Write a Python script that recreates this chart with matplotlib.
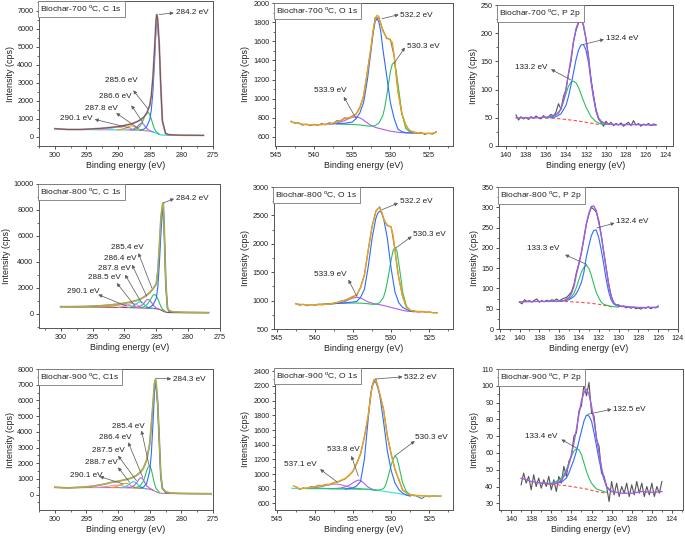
import matplotlib
matplotlib.use("Agg")
import matplotlib.pyplot as plt
from matplotlib.ticker import MultipleLocator, AutoMinorLocator

plt.rcParams['font.family'] = ['Liberation Sans', 'DejaVu Sans']
plt.rcParams['mathtext.fontset'] = 'custom'
plt.rcParams['mathtext.rm'] = 'Liberation Sans'

# ---------------- C 1s, 700 C ----------------
c700_x = [300, 298, 296, 294, 292, 291, 290, 289, 288, 287.5, 287, 286.5, 286, 285.5, 285, 284.75,
          284.5, 284.25, 284, 283.9, 283.75, 283.5, 283.25, 283, 282.5, 282, 281, 280, 278, 276.5]
c700_env = [460, 420, 420, 450, 500, 540, 580, 640, 720, 780, 850, 950, 1080, 1300, 1750, 2300,
            3300, 4800, 6500, 6800, 6600, 5200, 2800, 900, 200, 130, 110, 100, 95, 90]
c700_bg = [450, 415, 410, 405, 400, 398, 395, 390, 385, 380, 375, 370, 360, 345, 320, 300,
           280, 250, 210, 195, 175, 140, 120, 110, 100, 95, 90, 90, 88, 85]
c700_p1_x = [286.5, 286, 285.5, 285, 284.75, 284.5, 284.25, 284, 283.9, 283.75, 283.5, 283.25, 283, 282.5, 282, 281]
c700_p1_y = [375, 420, 560, 950, 1500, 2500, 4100, 6000, 6350, 6200, 5000, 2700, 880, 190, 120, 100]
c700_p2_x = [287.5, 287, 286.5, 286, 285.75, 285.5, 285.25, 285, 284.75, 284.5, 284.25, 284, 283.5]
c700_p2_y = [390, 450, 620, 950, 1180, 1330, 1380, 1250, 1000, 700, 450, 300, 160]
c700_p3_x = [288, 287.5, 287, 286.75, 286.5, 286.25, 286, 285.75, 285.5, 285, 284.5]
c700_p3_y = [400, 450, 560, 660, 740, 770, 720, 600, 480, 350, 280]
c700_p4_x = [290, 289.5, 289, 288.5, 288, 287.75, 287.5, 287, 286.5, 286, 285.5]
c700_p4_y = [400, 420, 470, 560, 620, 620, 580, 470, 400, 365, 345]
c700_p5_x = [293, 292, 291, 290.5, 290, 289.5, 289, 288, 287]
c700_p5_y = [405, 430, 490, 530, 545, 520, 470, 400, 375]
c700_labels = ["284.2 eV", "285.6 eV", "286.6 eV", "287.8 eV", "290.1 eV"]

# ---------------- C 1s, 800 C ----------------
c800_x = [300, 298, 296, 294, 292, 291, 290, 289, 288, 287.5, 287, 286.5, 286, 285.5, 285, 284.75,
          284.5, 284.25, 284, 283.9, 283.75, 283.5, 283.25, 283, 282.5, 282, 281, 280, 278, 276.8]
c800_env = [560, 560, 580, 620, 700, 760, 830, 920, 1050, 1150, 1280, 1450, 1650, 1950, 2300, 3300,
            5300, 7500, 8450, 8550, 6500, 2300, 500, 250, 170, 150, 130, 120, 110, 100]
c800_bg = [560, 550, 540, 530, 515, 505, 495, 485, 475, 470, 460, 450, 440, 425, 400, 380,
           350, 300, 240, 215, 180, 140, 120, 110, 105, 100, 100, 100, 100, 100]
c800_p1_x = [286.5, 286, 285.5, 285, 284.75, 284.5, 284.25, 284, 283.9, 283.75, 283.5, 283.25, 283, 282.5]
c800_p1_y = [460, 520, 700, 1200, 2100, 4000, 6400, 8000, 8300, 6300, 2200, 450, 200, 110]
c800_p2_x = [287.5, 287, 286.5, 286, 285.75, 285.5, 285.25, 285, 284.75, 284.5, 284.25, 284, 283.5]
c800_p2_y = [480, 540, 700, 1000, 1250, 1450, 1500, 1400, 1150, 850, 550, 350, 160]
c800_p3_x = [288.5, 288, 287.5, 287, 286.75, 286.5, 286.25, 286, 285.75, 285.5, 285, 284.5]
c800_p3_y = [490, 520, 600, 780, 950, 1080, 1120, 1050, 880, 680, 450, 360]
c800_p4_x = [289.5, 289, 288.5, 288, 287.75, 287.5, 287.25, 287, 286.5, 286, 285.5]
c800_p4_y = [500, 540, 650, 820, 920, 950, 900, 780, 560, 470, 430]
c800_p5_x = [291, 290.5, 290, 289.5, 289, 288.75, 288.5, 288.25, 288, 287.5, 287, 286.5]
c800_p5_y = [510, 540, 600, 700, 790, 810, 800, 760, 680, 540, 480, 455]
c800_p6_x = [294, 293, 292, 291, 290.5, 290, 289.5, 289, 288, 287]
c800_p6_y = [540, 560, 610, 680, 710, 720, 690, 620, 510, 465]
c800_labels = ["284.2 eV", "285.4 eV", "286.4 eV", "287.8 eV", "288.5 eV", "290.1 eV"]

# ---------------- C 1s, 900 C ----------------
c900_x = [300, 298, 296, 294, 292, 291, 290, 289, 288, 287.5, 287, 286.5, 286, 285.5, 285, 284.75,
          284.5, 284.25, 284.1, 284, 283.75, 283.5, 283.25, 283, 282.5, 282, 281, 280, 278, 275.3]
c900_env = [467, 425, 467, 530, 680, 785, 850, 935, 1040, 1125, 1250, 1420, 1680, 2170, 3230, 4400,
            5670, 7050, 7320, 7150, 5880, 3550, 1210, 400, 190, 120, 90, 75, 65, 55]
c900_bg = [460, 440, 445, 450, 450, 448, 445, 440, 430, 425, 415, 405, 390, 370, 340, 315,
           280, 230, 200, 180, 140, 110, 90, 80, 75, 70, 65, 62, 58, 55]
c900_p1_x = [286.5, 286, 285.5, 285, 284.75, 284.5, 284.25, 284.1, 284, 283.75, 283.5, 283.25, 283, 282.5, 282]
c900_p1_y = [420, 480, 700, 1500, 2600, 4400, 6500, 7100, 6950, 5750, 3450, 1150, 380, 140, 90]
c900_p2_x = [287.5, 287, 286.5, 286, 285.75, 285.5, 285.25, 285, 284.75, 284.5, 284.25, 284, 283.5]
c900_p2_y = [440, 470, 560, 850, 1150, 1500, 1750, 1850, 1600, 1150, 700, 400, 150]
c900_p3_x = [288.5, 288, 287.5, 287, 286.75, 286.5, 286.25, 286, 285.75, 285.5, 285, 284.5]
c900_p3_y = [440, 470, 560, 780, 950, 1070, 1060, 940, 740, 560, 400, 300]
c900_p4_x = [289.5, 289, 288.5, 288, 287.75, 287.5, 287.25, 287, 286.5, 286, 285.5]
c900_p4_y = [445, 480, 580, 740, 810, 820, 780, 680, 500, 420, 380]
c900_p5_x = [291, 290.5, 290, 289.5, 289, 288.75, 288.5, 288.25, 288, 287.5, 287, 286.5]
c900_p5_y = [455, 490, 560, 650, 710, 720, 700, 650, 580, 480, 430, 410]
c900_p6_x = [294, 293, 292, 291, 290.5, 290, 289.5, 289, 288, 287]
c900_p6_y = [455, 470, 510, 570, 600, 605, 580, 530, 460, 420]
c900_labels = ["284.3 eV", "285.4 eV", "286.4 eV", "287.5 eV", "288.7 eV", "290.1 eV"]

# ---------------- O 1s, 700 C ----------------
o700_raw_x = [543, 542.5, 542, 541.5, 541, 540.5, 540, 539.5, 539, 538.5, 538, 537.5, 537, 536.5, 536,
              535.5, 535, 534.5, 534, 533.5, 533, 532.5, 532, 531.5, 531, 530.5, 530, 529.5, 529,
              528.5, 528, 527.5, 527, 526.5, 526, 525.5, 525, 524.5, 524]
o700_raw = [765, 742, 748, 722, 735, 718, 732, 720, 740, 726, 748, 738, 770, 765, 800, 792, 818, 835,
            910, 1020, 1290, 1550, 1850, 1840, 1725, 1630, 1620, 1440, 1080, 840, 730, 660, 655,
            640, 648, 625, 640, 628, 655]
o700_x = [543, 542, 541, 540, 539, 538, 537, 536, 535.5, 535, 534.5, 534, 533.5, 533, 532.5, 532.25,
          532, 531.75, 531.5, 531.25, 531, 530.5, 530, 529.75, 529.5, 529.25, 529, 528.5, 528, 527.5,
          527, 526, 525, 524]
o700_env = [758, 740, 728, 725, 728, 735, 755, 790, 800, 810, 840, 900, 1030, 1280, 1560, 1720,
            1820, 1870, 1860, 1780, 1710, 1640, 1610, 1590, 1450, 1250, 1070, 850, 720, 670,
            650, 640, 635, 645]
o700_p1_x = [538, 537, 536, 535, 534.5, 534, 533.5, 533, 532.5, 532.25, 532, 531.75, 531.5, 531.25,
             531, 530.5, 530, 529.5, 529, 528.5, 528, 527]
o700_p1_y = [735, 738, 742, 755, 790, 850, 960, 1200, 1520, 1690, 1800, 1840, 1800, 1700, 1530,
             1250, 960, 790, 680, 655, 645, 640]
o700_p2_x = [537, 535, 534, 533, 532.5, 532, 531.5, 531, 530.75, 530.5, 530.25, 530, 529.75, 529.5,
             529.25, 529, 528.5, 528, 527.5, 527, 526]
o700_p2_y = [735, 730, 725, 715, 712, 718, 745, 820, 900, 1020, 1150, 1280, 1360, 1380, 1300, 1150,
             850, 690, 655, 645, 640]
o700_p3_x = [539, 538, 537, 536, 535.5, 535, 534.5, 534, 533.5, 533, 532.5, 532, 531, 530, 529, 528, 527, 526]
o700_p3_y = [730, 735, 745, 770, 790, 805, 810, 800, 775, 745, 720, 700, 680, 660, 648, 642, 640, 638]
o700_labels = ["532.2 eV", "530.3 eV", "533.9 eV"]

# ---------------- O 1s, 800 C ----------------
o800_raw_x = [542.5, 542, 541.5, 541, 540.5, 540, 539.5, 539, 538.5, 538, 537.5, 537, 536.5, 536,
              535.5, 535, 534.5, 534, 533.5, 533, 532.5, 532, 531.5, 531, 530.5, 530, 529.5, 529,
              528.5, 528, 527.5, 527, 526.5, 526, 525.5, 525, 524.5, 524]
o800_raw = [950, 918, 935, 910, 930, 918, 935, 925, 945, 935, 960, 968, 995, 1005, 1040, 1075, 1090,
            1240, 1460, 1890, 2310, 2580, 2650, 2440, 2320, 2300, 1880, 1400, 1070, 890, 825, 820,
            800, 812, 795, 800, 785, 790]
o800_x = [542.5, 541, 540, 539, 538, 537, 536, 535, 534.5, 534, 533.5, 533, 532.5, 532, 531.75, 531.5,
          531.25, 531, 530.75, 530.5, 530, 529.75, 529.5, 529.25, 529, 528.5, 528, 527.5, 527, 526,
          525, 524]
o800_env = [940, 925, 925, 930, 940, 970, 1010, 1060, 1105, 1230, 1450, 1900, 2300, 2570, 2620, 2630,
            2560, 2450, 2370, 2330, 2290, 2150, 1900, 1600, 1400, 1080, 880, 830, 815, 805, 795, 780]
o800_p1_x = [538, 537, 536, 535, 534.5, 534, 533.5, 533, 532.5, 532, 531.75, 531.5, 531.25, 531,
             530.5, 530, 529.5, 529, 528.5, 528, 527.5, 527]
o800_p1_y = [945, 950, 960, 975, 985, 1060, 1200, 1600, 2100, 2450, 2540, 2575, 2550, 2450, 2100,
             1560, 1150, 960, 880, 845, 815, 805]
o800_p2_x = [540, 538, 536, 535, 534, 533, 532.5, 532, 531.5, 531, 530.75, 530.5, 530.25, 530,
             529.75, 529.5, 529.25, 529, 528.75, 528.5, 528, 527.5, 527]
o800_p2_y = [930, 945, 955, 957, 955, 945, 935, 935, 965, 1060, 1170, 1330, 1520, 1720, 1880, 1940,
             1880, 1650, 1420, 1150, 900, 830, 815]
o800_p3_x = [540, 539, 538, 537, 536, 535.5, 535, 534.5, 534, 533.5, 533, 532.5, 532, 531, 530, 529,
             528, 527, 526]
o800_p3_y = [930, 935, 940, 955, 985, 1020, 1045, 1058, 1045, 1010, 975, 955, 940, 915, 880, 845,
             815, 805, 800]
o800_labels = ["532.2 eV", "530.3 eV", "533.9 eV"]

# ---------------- O 1s, 900 C ----------------
o900_raw_x = [542.5, 542, 541.5, 541, 540.5, 540, 539.5, 539, 538.5, 538, 537.5, 537, 536.5, 536,
              535.5, 535, 534.5, 534, 533.5, 533, 532.5, 532, 531.5, 531, 530.5, 530, 529.5, 529,
              528.5, 528, 527.5, 527, 526.5, 526, 525.5, 525, 524.5, 524, 523.5]
o900_raw = [830, 790, 812, 800, 830, 820, 848, 838, 860, 855, 885, 890, 912, 935, 985, 1035, 1150,
            1270, 1510, 1790, 2190, 2300, 2090, 1890, 1520, 1280, 1060, 930, 780, 745, 705, 715,
            690, 665, 700, 690, 705, 695, 700]
o900_x = [542.8, 542, 541, 540, 539, 538, 537, 536, 535.5, 535, 534.5, 534, 533.5, 533, 532.75, 532.5,
          532.25, 532, 531.75, 531.5, 531, 530.5, 530, 529.5, 529, 528.5, 528, 527.5, 527, 526, 525,
          523.5]
o900_env = [840, 800, 810, 830, 845, 862, 895, 940, 980, 1043, 1140, 1280, 1500, 1800, 2000, 2180,
            2290, 2270, 2200, 2100, 1880, 1530, 1270, 1070, 920, 790, 740, 715, 710, 705, 700, 700]
o900_bg_x = [543, 540, 538, 536, 535, 534, 533, 532, 531, 530, 529, 528, 527, 526, 525, 523.5]
o900_bg = [805, 800, 798, 796, 795, 792, 788, 780, 765, 750, 733, 716, 706, 702, 700, 700]
o900_p1_x = [536, 535, 534.5, 534, 533.5, 533, 532.75, 532.5, 532.25, 532, 531.75, 531.5, 531, 530.5,
             530, 529.5, 529, 528.5, 528, 527.5]
o900_p1_y = [795, 810, 840, 900, 1200, 1750, 2030, 2200, 2265, 2250, 2180, 2080, 1720, 1320, 1050,
             880, 790, 740, 712, 700]
o900_p2_x = [541, 539, 537, 535, 533, 532, 531.5, 531, 530.75, 530.5, 530.25, 530, 529.75, 529.5,
             529.25, 529, 528.75, 528.5, 528, 527.5, 527]
o900_p2_y = [805, 805, 800, 800, 795, 780, 785, 800, 840, 920, 1020, 1120, 1200, 1245, 1220, 1120,
             1000, 880, 760, 720, 705]
o900_p3_x = [538, 537, 536.5, 536, 535.5, 535, 534.5, 534.25, 534, 533.5, 533, 532.5, 532]
o900_p3_y = [800, 805, 812, 825, 845, 880, 910, 918, 912, 870, 820, 795, 780]
o900_p4_x = [541, 540, 539, 538.5, 538, 537.5, 537.2, 537, 536.5, 536, 535.5, 535, 534]
o900_p4_y = [805, 812, 830, 845, 855, 862, 863, 862, 852, 838, 822, 810, 800]
o900_labels = ["532.2 eV", "530.3 eV", "533.8 eV", "537.1 eV"]

# ---------------- P 2p (raw scans, 0.25 eV steps) ----------------
p700_raw_x = [139.0, 138.75, 138.5, 138.25, 138.0, 137.75, 137.5, 137.25, 137.0, 136.75, 136.5, 136.25,
              136.0, 135.75, 135.5, 135.25, 135.0, 134.75, 134.5, 134.25, 134.0, 133.75, 133.5, 133.25,
              133.0, 132.75, 132.5, 132.25, 132.0, 131.75, 131.5, 131.25, 131.0, 130.75, 130.5, 130.25,
              130.0, 129.75, 129.5, 129.25, 129.0, 128.75, 128.5, 128.25, 128.0, 127.75, 127.5, 127.25,
              127.0, 126.75, 126.5, 126.25, 126.0, 125.75, 125.5, 125.25, 125.0]
p700_raw = [55, 46, 52, 48, 51, 47, 52, 49, 53, 50, 48, 54, 49, 52, 56, 53, 60, 75, 65, 88, 100, 128,
            150, 185, 205, 218, 228, 212, 190, 160, 118, 90, 62, 48, 42, 35, 44, 38, 42, 36, 40, 37,
            41, 35, 39, 42, 36, 45, 37, 40, 35, 39, 37, 40, 36, 39, 38]
p700_x = [139, 138, 137, 136, 135.5, 135, 134.75, 134.5, 134.25, 134, 133.75, 133.5, 133.25, 133, 132.75,
          132.5, 132.25, 132, 131.75, 131.5, 131.25, 131, 130.75, 130.5, 130, 129, 127, 125]
p700_env = [50, 50, 50, 51, 53, 56, 58, 66, 80, 101, 128, 155, 185, 208, 220, 223, 215, 190, 155, 115,
            85, 63, 50, 44, 39, 38, 38, 37]
p700_p1_x = [135.5, 135, 134.5, 134, 133.75, 133.5, 133.25, 133, 132.75, 132.5, 132.25, 132, 131.75,
             131.5, 131.25, 131, 130.75, 130.5, 130]
p700_p1_y = [50, 52, 57, 72, 88, 108, 130, 153, 170, 179, 180, 170, 148, 118, 88, 65, 50, 43, 39]
p700_p2_x = [136, 135.5, 135, 134.5, 134.25, 134, 133.75, 133.5, 133.25, 133, 132.75, 132.5, 132.25, 132,
             131.5, 131, 130.5, 130]
p700_p2_y = [50, 51, 55, 66, 79, 93, 106, 113, 115, 112, 104, 92, 80, 69, 52, 43, 39, 38]
p700_bg_x = [136, 135, 134, 133, 132, 131, 130.5]
p700_bg = [50, 49, 47, 45, 42, 39, 38]
p700_labels = ["132.4 eV", "133.2 eV"]

p800_raw_x = [140.0, 139.75, 139.5, 139.25, 139.0, 138.75, 138.5, 138.25, 138.0, 137.75, 137.5, 137.25,
              137.0, 136.75, 136.5, 136.25, 136.0, 135.75, 135.5, 135.25, 135.0, 134.75, 134.5, 134.25,
              134.0, 133.75, 133.5, 133.25, 133.0, 132.75, 132.5, 132.25, 132.0, 131.75, 131.5, 131.25,
              131.0, 130.75, 130.5, 130.25, 130.0, 129.75, 129.5, 129.25, 129.0, 128.75, 128.5, 128.25,
              128.0, 127.75, 127.5, 127.25, 127.0, 126.75, 126.5, 126.25, 126.0]
p800_raw = [66, 62, 72, 68, 70, 66, 71, 74, 66, 70, 67, 71, 68, 72, 70, 74, 69, 73, 76, 78, 84, 92,
            110, 140, 162, 188, 222, 258, 282, 300, 295, 288, 268, 232, 190, 150, 112, 82, 66, 58,
            60, 55, 57, 52, 55, 51, 54, 50, 52, 49, 53, 51, 55, 50, 53, 52, 57]
p800_x = [140, 138, 137, 136, 135.5, 135, 134.75, 134.5, 134.25, 134, 133.75, 133.5, 133.25, 133, 132.75,
          132.5, 132.25, 132, 131.75, 131.5, 131.25, 131, 130.75, 130.5, 130, 129, 128, 127, 126]
p800_env = [67, 68, 68, 68, 70, 78, 88, 105, 135, 160, 190, 225, 260, 285, 302, 303, 292, 262, 230, 190,
            150, 108, 80, 63, 57, 55, 53, 53, 54]
p800_p1_x = [136, 135, 134.5, 134.25, 134, 133.75, 133.5, 133.25, 133, 132.75, 132.5, 132.25, 132,
             131.75, 131.5, 131.25, 131, 130.75, 130.5, 130, 129.5]
p800_p1_y = [68, 72, 80, 88, 100, 115, 140, 178, 205, 230, 243, 244, 225, 195, 160, 122, 92, 72, 62, 56, 55]
p800_p2_x = [137, 136, 135.5, 135, 134.75, 134.5, 134.25, 134, 133.75, 133.5, 133.25, 133, 132.75,
             132.5, 132.25, 132, 131.75, 131.5, 131, 130.5, 130]
p800_p2_y = [68, 69, 70, 74, 80, 88, 103, 122, 140, 152, 157, 150, 132, 110, 90, 77, 66, 61, 57, 55, 54]
p800_bg_x = [136, 135, 134, 133, 132, 131, 130.5]
p800_bg = [68, 67.5, 66, 64, 61, 56, 54]
p800_labels = ["132.4 eV", "133.3 eV"]

p900_raw_x = p700_raw_x
p900_raw = [41, 48, 42, 46, 38, 47, 40, 45, 39, 44, 40, 46, 38, 44, 37, 46, 42, 52, 46, 55, 58, 70,
            72, 85, 88, 101, 94, 102, 84, 82, 68, 64, 48, 46, 40, 31, 43, 35, 42, 34, 40, 36, 42,
            34, 41, 35, 43, 36, 42, 34, 40, 35, 42, 34, 40, 36, 43]
p900_x = [139, 138, 137, 136, 135.5, 135, 134.75, 134.5, 134.25, 134, 133.75, 133.5, 133.25, 133, 132.75,
          132.5, 132.25, 132, 131.75, 131.5, 131.25, 131, 130.75, 130.5, 130, 129, 128, 127, 126, 125]
p900_env = [45, 43, 42, 41.5, 42, 43.5, 46, 49, 53, 59, 66, 74, 83, 91, 96, 98, 95, 88, 79, 69, 60, 51,
            45, 40, 37, 36, 36, 37, 36.5, 37]
p900_p1_x = [136, 135, 134.5, 134.25, 134, 133.75, 133.5, 133.25, 133, 132.75, 132.5, 132.25, 132,
             131.75, 131.5, 131.25, 131, 130.75, 130.5, 130.25, 130]
p900_p1_y = [41.5, 42.5, 45, 48, 52, 56, 61, 67, 73, 79, 82.5, 82, 79, 72, 64, 56, 49, 44, 40, 38, 37]
p900_p2_x = [137, 136, 135.5, 135, 134.75, 134.5, 134.25, 134, 133.75, 133.5, 133.25, 133, 132.75,
             132.5, 132.25, 132, 131.5, 131, 130.5]
p900_p2_y = [42, 42, 43, 45, 47, 50, 54, 58, 61, 62.5, 62, 59, 54, 49, 45, 42, 38.5, 37.5, 36.5]
p900_bg_x = [136.5, 135.5, 134.5, 133.5, 132.5, 131.5, 130.5]
p900_bg = [41.5, 41, 40.5, 39.5, 38.5, 37, 36]
p900_labels = ["132.5 eV", "133.4 eV"]

titles = [r"Biochar-700 $^{\rm o}$C, C 1s", r"Biochar-700 $^{\rm o}$C, O 1s", r"Biochar-700 $^{\rm o}$C, P 2p",
          r"Biochar-800 $^{\rm o}$C, C 1s", r"Biochar-800 $^{\rm o}$C, O 1s", r"Biochar-800 $^{\rm o}$C, P 2p",
          r"Biochar-900 $^{\rm o}$C, C1s", r"Biochar-900 $^{\rm o}$C, O 1s", r"Biochar-900 $^{\rm o}$C, P 2p"]

# ---------------- figure ----------------
W, H = 685, 540
fig = plt.figure(figsize=(W / 100, H / 100), dpi=100, facecolor="white")

def px_axes(l, r, t, b):
    return fig.add_axes([l / W, 1 - b / H, (r - l) / W, (b - t) / H])

BLUE, GREEN, VIOLET, CYAN, ORANGE, PINK = "#2f6bff", "#2fbf5f", "#b35cf0", "#22d3e0", "#e8a21c", "#e48fe0"
ARROW = "#606060"
LW = 0.8

def style(ax, title, xlim, ylim, xstep, ystep):
    ax.set_xlim(*xlim)
    ax.set_ylim(*ylim)
    ax.xaxis.set_major_locator(MultipleLocator(xstep))
    ax.yaxis.set_major_locator(MultipleLocator(ystep))
    ax.xaxis.set_minor_locator(AutoMinorLocator(2))
    ax.yaxis.set_minor_locator(AutoMinorLocator(2))
    ax.tick_params(which="major", direction="out", length=2.5, width=0.6, labelsize=5.2, pad=1.5,
                   colors="#333333", labelcolor="#222222")
    ax.tick_params(which="minor", direction="out", length=1.4, width=0.5, colors="#333333")
    for s in ax.spines.values():
        s.set_color("#555555")
        s.set_linewidth(0.7)
    ax.set_xlabel("Binding energy (eV)", fontsize=6.4, labelpad=2, color="#222222")
    ax.set_ylabel("Intensity (cps)", fontsize=6.4, labelpad=2, color="#222222")
    ax.text(0.008, 0.985, title, transform=ax.transAxes, ha="left", va="top", fontsize=6.1,
            color="#222222", zorder=10,
            bbox=dict(boxstyle="square,pad=0.3", fc="white", ec="#777777", lw=0.6))

def label(ax, text, peak, head, pos, ha):
    ax.annotate("", xy=head, xytext=peak,
                arrowprops=dict(arrowstyle="-|>", color=ARROW, lw=0.55, mutation_scale=5,
                                shrinkA=0, shrinkB=0), zorder=8)
    ax.text(pos[0], pos[1], text, ha=ha, va="center", fontsize=5.9, color="#222222", zorder=9)

# ---- row 1 ----
ax = px_axes(39, 213, 1, 146)
ax.plot(c700_x, c700_bg, color=CYAN, lw=LW)
for xs, ys, c in [(c700_p5_x, c700_p5_y, PINK), (c700_p4_x, c700_p4_y, ORANGE), (c700_p3_x, c700_p3_y, VIOLET),
                  (c700_p2_x, c700_p2_y, GREEN), (c700_p1_x, c700_p1_y, BLUE)]:
    ax.plot(xs, ys, color=c, lw=LW)
ax.plot(c700_x, c700_env, color="#b99595", lw=1.3)
ax.plot(c700_x, c700_env, color="#6d4b4b", lw=0.6)
style(ax, titles[0], (302.5, 275), (-500, 7550), 5, 1000)
for t, pk, hd, ps, ha in zip(c700_labels,
                             [(283.5, 6800), (285.3, 1570), (286.1, 800), (286.8, 480), (287.9, 480)],
                             [(281.2, 6890), (287.6, 2590), (287.9, 1760), (290.3, 1330), (293.7, 980)],
                             [(280.9, 6907), (289.5, 3150), (290.4, 2260), (292.6, 1574), (296.6, 1018)],
                             ["left", "center", "center", "center", "center"]):
    label(ax, t, pk, hd, ps, ha)

ax = px_axes(275, 453, 3, 146)
ax.plot(o700_raw_x, o700_raw, color="#777777", lw=LW)
ax.plot(o700_p3_x, o700_p3_y, color=VIOLET, lw=LW)
ax.plot(o700_p2_x, o700_p2_y, color=GREEN, lw=LW)
ax.plot(o700_p1_x, o700_p1_y, color=BLUE, lw=LW)
ax.plot(o700_x, o700_env, color=ORANGE, lw=1.0)
style(ax, titles[1], (545.1, 521.8), (505, 2000), 5, 200)
for t, pk, hd, ps, ha in zip(o700_labels,
                             [(531.1, 1836), (529.5, 1370), (534.5, 793)],
                             [(528.9, 1878), (528.1, 1535), (536.1, 1020)],
                             [(528.7, 1871), (527.8, 1546), (537.9, 1090)],
                             ["left", "left", "center"]):
    label(ax, t, pk, hd, ps, ha)

ax = px_axes(498, 673, 5, 146)
ax.plot(p700_raw_x, p700_raw, color="#555555", lw=LW)
ax.plot(p700_bg_x, p700_bg, color="#ff4a4a", lw=LW, ls=(0, (3, 2)))
ax.plot(p700_p2_x, p700_p2_y, color=GREEN, lw=LW)
ax.plot(p700_p1_x, p700_p1_y, color=BLUE, lw=LW)
ax.plot(p700_x, p700_env, color="#a25fe0", lw=1.0)
style(ax, titles[2], (140.8, 123.3), (0, 250), 2, 50)
for t, pk, hd, ps, ha in zip(p700_labels,
                             [(132.3, 180), (133.5, 117)],
                             [(130.2, 189), (135.5, 136)],
                             [(130.0, 190), (137.5, 140)],
                             ["left", "center"]):
    label(ax, t, pk, hd, ps, ha)

# ---- row 2 ----
ax = px_axes(39, 220, 184, 328)
ax.plot(c800_x, c800_env, color="#999999", lw=1.3)
ax.plot(c800_x, c800_bg, color="#9c4545", lw=LW)
for xs, ys, c in [(c800_p6_x, c800_p6_y, "#c9966b"), (c800_p5_x, c800_p5_y, PINK), (c800_p4_x, c800_p4_y, CYAN),
                  (c800_p3_x, c800_p3_y, VIOLET), (c800_p2_x, c800_p2_y, GREEN), (c800_p1_x, c800_p1_y, BLUE)]:
    ax.plot(xs, ys, color=c, lw=LW)
ax.plot(c800_x, c800_env, color="#b1b13a", lw=0.9)
style(ax, titles[3], (303.4, 275), (-1080, 10000), 5, 2000)
for t, pk, hd, ps, ha in zip(c800_labels,
                             [(283.9, 8540), (285.7, 2000), (286.5, 1360), (287.3, 850), (288.3, 590), (289.6, 590)],
                             [(282.2, 8870), (287.8, 4690), (288.8, 3800), (289.9, 3030), (291.2, 2380), (294.1, 1490)],
                             [(281.9, 8920), (289.6, 5080), (290.7, 4260), (291.5, 3490), (293.2, 2770), (296.5, 1740)],
                             ["left", "center", "center", "center", "center", "center"]):
    label(ax, t, pk, hd, ps, ha)

ax = px_axes(274, 453, 187, 329)
ax.plot(o800_raw_x, o800_raw, color="#777777", lw=LW)
ax.plot(o800_p3_x, o800_p3_y, color=VIOLET, lw=LW)
ax.plot(o800_p2_x, o800_p2_y, color=GREEN, lw=LW)
ax.plot(o800_p1_x, o800_p1_y, color=BLUE, lw=LW)
ax.plot(o800_x, o800_env, color=ORANGE, lw=1.0)
style(ax, titles[4], (545.35, 521.9), (500, 3000), 5, 500)
for t, pk, hd, ps, ha in zip(o800_labels,
                             [(531.2, 2600), (529.4, 1926), (534.5, 1075)],
                             [(529.1, 2718), (527.3, 2130), (535.6, 1369)],
                             [(528.8, 2748), (527.1, 2172), (538.0, 1457)],
                             ["left", "left", "center"]):
    label(ax, t, pk, hd, ps, ha)

ax = px_axes(499, 678, 187, 329)
ax.plot(p800_raw_x, p800_raw, color="#555555", lw=LW)
ax.plot(p800_bg_x, p800_bg, color="#ff4a4a", lw=LW, ls=(0, (3, 2)))
ax.plot(p800_p2_x, p800_p2_y, color=GREEN, lw=LW)
ax.plot(p800_p1_x, p800_p1_y, color=BLUE, lw=LW)
ax.plot(p800_x, p800_env, color="#a25fe0", lw=1.0)
style(ax, titles[5], (142.07, 124), (0, 350), 2, 50)
for t, pk, hd, ps, ha in zip(p800_labels,
                             [(132.2, 249), (133.2, 159)],
                             [(130.4, 261), (135.4, 183)],
                             [(130.3, 265), (137.6, 198)],
                             ["left", "center"]):
    label(ax, t, pk, hd, ps, ha)

# ---- row 3 ----
ax = px_axes(39, 213, 369, 510)
ax.plot(c900_x, c900_env, color="#999999", lw=1.3)
ax.plot(c900_x, c900_bg, color="#c07a7a", lw=LW)
for xs, ys, c in [(c900_p6_x, c900_p6_y, PINK), (c900_p5_x, c900_p5_y, ORANGE), (c900_p4_x, c900_p4_y, CYAN),
                  (c900_p3_x, c900_p3_y, VIOLET), (c900_p2_x, c900_p2_y, GREEN), (c900_p1_x, c900_p1_y, BLUE)]:
    ax.plot(xs, ys, color=c, lw=LW)
ax.plot(c900_x, c900_env, color="#b1b13a", lw=0.9)
style(ax, titles[6], (302.5, 275), (-980, 8000), 5, 1000)
for t, pk, hd, ps, ha in zip(c900_labels,
                             [(284.1, 7410), (285.1, 1850), (286.1, 1100), (287.1, 890), (288.2, 785), (289.2, 680)],
                             [(281.6, 7370), (286.3, 4080), (288.4, 3330), (290.0, 2480), (290.0, 1740), (292.9, 1150)],
                             [(281.3, 7325), (288.4, 4350), (290.5, 3650), (291.6, 2800), (292.6, 2020), (295.1, 1210)],
                             ["left", "center", "center", "center", "center", "center"]):
    label(ax, t, pk, hd, ps, ha)

ax = px_axes(275, 453, 368, 510)
ax.plot(o900_raw_x, o900_raw, color="#777777", lw=LW)
ax.plot(o900_bg_x, o900_bg, color="#33e0e8", lw=LW)
ax.plot(o900_p4_x, o900_p4_y, color="#b07ad8", lw=LW)
ax.plot(o900_p3_x, o900_p3_y, color=VIOLET, lw=LW)
ax.plot(o900_p2_x, o900_p2_y, color=GREEN, lw=LW)
ax.plot(o900_p1_x, o900_p1_y, color=BLUE, lw=LW)
ax.plot(o900_x, o900_env, color=ORANGE, lw=1.0)
style(ax, titles[7], (545.2, 521.9), (510, 2445), 5, 200)
for t, pk, hd, ps, ha in zip(o900_labels,
                             [(531.9, 2297), (529.5, 1247), (534.3, 975), (537.1, 894)],
                             [(528.5, 2324), (526.9, 1450), (535.2, 1247), (539.3, 1066)],
                             [(528.3, 2310), (526.9, 1496), (536.3, 1337), (541.9, 1134)],
                             ["left", "left", "center", "center"]):
    label(ax, t, pk, hd, ps, ha)

ax = px_axes(499, 683, 369, 510)
ax.plot(p900_raw_x, p900_raw, color="#555555", lw=LW)
ax.plot(p900_bg_x, p900_bg, color="#ff4a4a", lw=LW, ls=(0, (3, 2)))
ax.plot(p900_p2_x, p900_p2_y, color=GREEN, lw=LW)
ax.plot(p900_p1_x, p900_p1_y, color=BLUE, lw=LW)
ax.plot(p900_x, p900_env, color="#a25fe0", lw=1.0)
style(ax, titles[8], (141.2, 122.9), (26, 110), 2, 10)
for t, pk, hd, ps, ha in zip(p900_labels,
                             [(132.4, 83), (133.5, 63)],
                             [(130.0, 86), (135.0, 68)],
                             [(129.9, 86), (137.0, 70)],
                             ["left", "center"]):
    label(ax, t, pk, hd, ps, ha)

fig.savefig("out.png", dpi=100, facecolor="white")
